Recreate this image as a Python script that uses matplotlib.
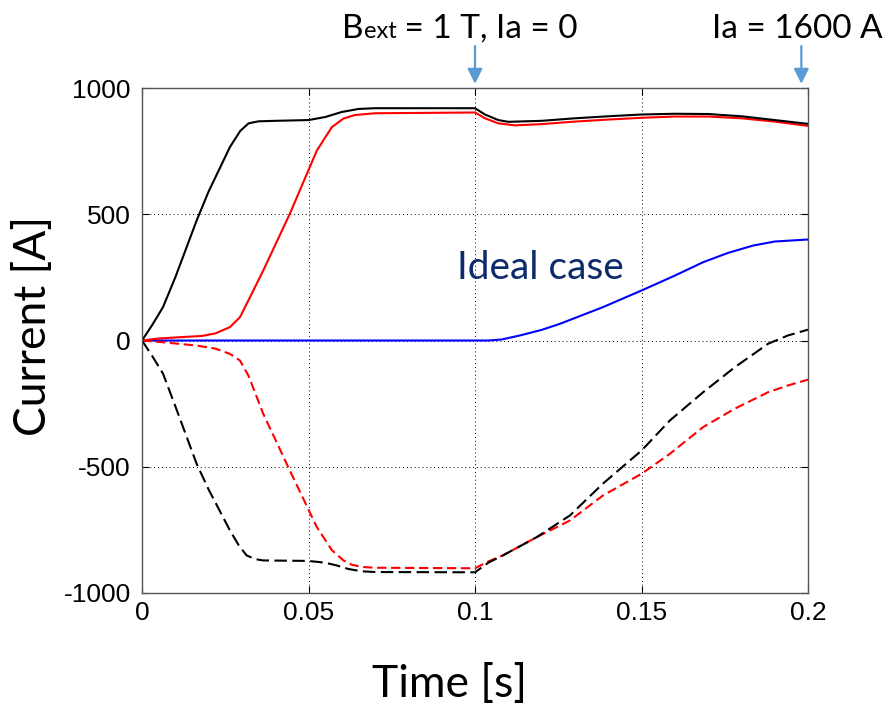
import matplotlib
matplotlib.use("Agg")
import matplotlib.pyplot as plt

# ---------------- data ----------------
t_black_solid = [0, 0.003, 0.0063, 0.01, 0.0164, 0.02, 0.0264, 0.0295, 0.032, 0.035, 0.04, 0.05,
                 0.055, 0.06, 0.065, 0.07, 0.1, 0.103, 0.107, 0.11, 0.12, 0.13, 0.14, 0.15, 0.16,
                 0.17, 0.18, 0.19, 0.2]
i_black_solid = [0, 60, 132, 250, 475, 590, 766, 830, 860, 868, 870, 873,
                 885, 905, 917, 920, 920, 895, 873, 866, 870, 880, 888, 895, 898,
                 897, 888, 873, 858]

t_red_solid = [0, 0.005, 0.01, 0.018, 0.022, 0.0264, 0.0294, 0.032, 0.0364, 0.0444, 0.0525, 0.057,
               0.0605, 0.064, 0.07, 0.1, 0.103, 0.107, 0.112, 0.12, 0.13, 0.14, 0.15, 0.16, 0.17,
               0.18, 0.19, 0.2]
i_red_solid = [0, 8, 12, 18, 28, 53, 92, 160, 277, 502, 752, 845,
               879, 893, 900, 903, 880, 860, 852, 857, 867, 875, 882, 887, 887,
               880, 867, 850]

t_blue = [0, 0.104, 0.108, 0.1135, 0.12, 0.1255, 0.1384, 0.15, 0.16, 0.1685, 0.176, 0.1835, 0.19, 0.2]
i_blue = [0, 0, 4, 20, 42, 66, 132, 198, 257, 310, 347, 376, 392, 400]

t_black_dash = [0, 0.003, 0.0063, 0.01, 0.0164, 0.02, 0.0264, 0.029, 0.0314, 0.034, 0.0364, 0.05,
                0.055, 0.0585, 0.062, 0.066, 0.07, 0.1, 0.104, 0.1084, 0.1185, 0.1285, 0.1384,
                0.15, 0.1585, 0.1685, 0.178, 0.188, 0.194, 0.2]
i_black_dash = [0, -60, -131, -260, -488, -590, -752, -810, -851, -866, -871, -873,
                -880, -891, -905, -914, -917, -918, -880, -851, -779, -693, -567,
                -436, -317, -205, -106, -13, 20, 43]

t_red_dash = [0, 0.0063, 0.0164, 0.022, 0.0264, 0.0294, 0.032, 0.0364, 0.0444, 0.0525, 0.057,
              0.0605, 0.063, 0.066, 0.07, 0.1, 0.104, 0.1084, 0.1185, 0.1285, 0.1384, 0.15,
              0.1585, 0.1685, 0.178, 0.188, 0.194, 0.2]
i_red_dash = [0, -7, -20, -32, -53, -79, -140, -290, -515, -739, -830,
              -871, -888, -897, -900, -902, -875, -851, -779, -713, -614, -528,
              -449, -343, -270, -205, -178, -155]

x_ticks = [0, 0.05, 0.1, 0.15, 0.2]
x_tick_labels = ["0", "0.05", "0.1", "0.15", "0.2"]
y_ticks = [-1000, -500, 0, 500, 1000]
y_tick_labels = ["-1000", "-500", "0", "500", "1000"]

arrow_times = [0.1, 0.198]

# ---------------- figure ----------------
W, H = 888, 704
fig = plt.figure(figsize=(W / 100, H / 100), dpi=100)
ax = fig.add_axes([142 / W, (H - 593) / H, (808 - 142) / W, (593 - 88) / H])

lw = 1.5
ax.plot(t_blue, i_blue, color="#0000ff", lw=lw)
ax.plot(t_red_solid, i_red_solid, color="#ff0000", lw=lw)
ax.plot(t_black_solid, i_black_solid, color="black", lw=lw)
ax.plot(t_red_dash, i_red_dash, color="#ff0000", lw=lw, linestyle=(0, (4.5, 2.2)))
ax.plot(t_black_dash, i_black_dash, color="black", lw=lw, linestyle=(0, (6, 2.6)))

ax.set_xlim(0, 0.2)
ax.set_ylim(-1000, 1000)
ax.set_xticks(x_ticks)
ax.set_xticklabels(x_tick_labels)
ax.set_yticks(y_ticks)
ax.set_yticklabels(y_tick_labels)

tick_font = "Liberation Sans"
for lab in ax.get_xticklabels() + ax.get_yticklabels():
    lab.set_fontfamily(tick_font)
    lab.set_fontsize(19)
ax.tick_params(axis="both", direction="in", length=5, width=0.8, top=True, right=True,
               colors="black")
ax.tick_params(axis="x", pad=6)
ax.tick_params(axis="y", pad=8)

ax.grid(True, color="black", linestyle=(0, (1, 3)), linewidth=0.7)
for s in ax.spines.values():
    s.set_color("#555555")
    s.set_linewidth(1.0)

label_font = "Lato"
fig.text(449 / W, 1 - 697 / H, "Time [s]", fontfamily=label_font, fontsize=32,
         ha="center", va="baseline")
fig.text(33 / W, 1 - 326 / H, "Current [A]", fontfamily=label_font, fontsize=32,
         rotation=90, ha="center", va="center")

fig.text(457 / W, 1 - 279 / H, "Ideal case", fontfamily=label_font, fontsize=28,
         color="#0d2b6b", va="baseline", ha="left")

# ---------------- top annotations ----------------
fig.canvas.draw()
renderer = fig.canvas.get_renderer()
base_y = 1 - 37.5 / H
x0 = 342
pieces = [("B", 24), ("ext", 17), (" = 1 T, Ia = 0", 24)]
for txt, fs in pieces:
    tt = fig.text(x0 / W, base_y, txt, fontfamily=label_font, fontsize=fs, va="baseline",
                  ha="left")
    bb = tt.get_window_extent(renderer)
    x0 = bb.x1
fig.text(883 / W, base_y, "Ia = 1600 A", fontfamily=label_font, fontsize=24, va="baseline",
         ha="right")

for ta in arrow_times:
    ax.annotate("", xy=(ta, 1000), xycoords="data",
                xytext=(0, 42), textcoords="offset pixels",
                arrowprops=dict(arrowstyle="-|>,head_length=0.9,head_width=0.45",
                                color="#5b9bd5", lw=1.6, shrinkA=0, shrinkB=3),
                annotation_clip=False)

fig.savefig("out.png", dpi=100)
